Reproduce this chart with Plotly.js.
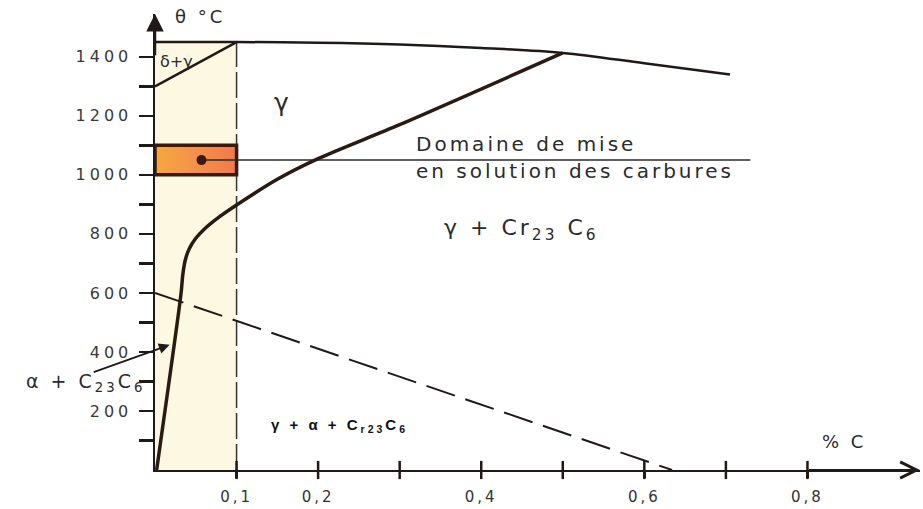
<!DOCTYPE html>
<html><head><meta charset="utf-8">
<script src="https://cdn.plot.ly/plotly-3.0.1.min.js"></script>
<style>
body{margin:0;background:#fff}
text.annotation-text{letter-spacing:3px}
.ytick text{letter-spacing:4px}
.xtick text{letter-spacing:3px}
</style>
</head><body>
<div id="chart" style="width:923px;height:509px"></div>
<script>
// ---- data (x: % C, y: temperature °C) ----
const topLineX   = [0, 0.1, 0.2, 0.3, 0.4, 0.5, 0.6, 0.705];
const topLineY   = [1450, 1450, 1448, 1442, 1430, 1413, 1378, 1340];
const deltaX     = [0, 0.1];
const deltaY     = [1300, 1450];
const solvusX    = [0.5, 0.3, 0.2, 0.15, 0.1, 0.08, 0.06, 0.05, 0.042, 0.037, 0.034, 0.032, 0.002];
const solvusY    = [1413, 1170, 1055, 985, 898, 860, 815, 785, 750, 710, 660, 600, 0];
const dashedX    = [0, 0.634];
const dashedY    = [600, 0];
const limitX     = [0.1, 0.1];
const limitY     = [0, 1450];
const zoneX      = [0, 0.1, 0.1, 0, 0];
const zoneY      = [0, 0, 1450, 1450, 0];
const boxX       = [0, 0.1, 0.1, 0, 0];
const boxY       = [1000, 1000, 1100, 1100, 1000];
const pointerX   = [0.057, 0.73];
const pointerY   = [1050, 1050];
const xTickMarks = [0.1, 0.2, 0.3, 0.4, 0.5, 0.6, 0.7, 0.8];
const xTickVals  = [0.1, 0.2, 0.4, 0.6, 0.8];
const xTickText  = ['0,1', '0,2', '0,4', '0,6', '0,8'];
const yTickMarks = [100, 200, 300, 400, 500, 600, 700, 800, 900, 1000, 1100, 1200, 1300, 1400];
const yTickVals  = [200, 400, 600, 800, 1000, 1200, 1400];
const yTickText  = ['200', '400', '600', '800', '1000', '1200', '1400'];
const xMax = 0.938, yMax = 1545;

const ink = '#1f1a17';
const traces = [
  {x: zoneX, y: zoneY, mode: 'lines', fill: 'toself', fillcolor: '#fdf8e2', line: {width: 0}},
  {x: limitX, y: limitY, mode: 'lines', line: {color: '#333', width: 1.5, dash: '26px,5px'}},
  {x: boxX, y: boxY, mode: 'lines', fill: 'toself', fillcolor: '#f4894a',
   fillgradient: {type: 'horizontal', colorscale: [[0, '#f7a83e'], [0.5, '#f5904a'], [1, '#f27a4c']]},
   line: {color: '#3a1a0e', width: 3.5}},
  {x: pointerX, y: pointerY, mode: 'lines', line: {color: '#2a2a2a', width: 1.5}},
  {x: [pointerX[0]], y: [pointerY[0]], mode: 'markers', marker: {color: '#3a1a0e', size: 10}},
  {x: topLineX, y: topLineY, mode: 'lines', line: {color: ink, width: 2.5, shape: 'spline'}},
  {x: deltaX, y: deltaY, mode: 'lines', line: {color: ink, width: 2.5}},
  {x: solvusX, y: solvusY, mode: 'lines', line: {color: '#2a1a14', width: 3.5, shape: 'spline', smoothing: 0.8}},
  {x: dashedX, y: dashedY, mode: 'lines', line: {color: ink, width: 2, dash: '30px,11px'}},
  {x: xTickMarks, y: xTickMarks.map(() => 0), mode: 'markers',
   marker: {symbol: 'line-ns-open', size: 13, color: ink, line: {color: ink, width: 2.5}}}
];
traces.forEach(t => { t.showlegend = false; t.cliponaxis = false; t.hoverinfo = 'skip'; });

const txt = (x, y, text, size, extra) => Object.assign({x, y, xref: 'x', yref: 'y', text, showarrow: false,
  xanchor: 'center', font: {family: 'DejaVu Sans', size, color: '#2b2b2b'}}, extra || {});

const layout = {
  width: 923, height: 509,
  margin: {l: 155, r: 3, t: 14, b: 39},
  paper_bgcolor: '#fff', plot_bgcolor: '#fff',
  showlegend: false,
  xaxis: {range: [0, xMax], showgrid: false, zeroline: false, showline: true, linecolor: ink, linewidth: 2,
          tickmode: 'array', tickvals: xTickVals, ticktext: xTickText, ticks: 'outside', ticklen: 6, tickwidth: 2.5, tickcolor: ink,
          ticklabelstandoff: 6, tickfont: {family: 'DejaVu Sans', size: 15, color: '#333'}},
  yaxis: {range: [0, yMax], showgrid: false, zeroline: false, showline: true, linecolor: ink, linewidth: 2.5,
          tickmode: 'array', tickvals: yTickVals, ticktext: yTickText, ticks: 'outside', ticklen: 14, tickwidth: 2.5, tickcolor: ink,
          ticklabelstandoff: 3, tickfont: {family: 'DejaVu Sans', size: 16, color: '#3a3a3a'},
          minor: {tickmode: 'array', tickvals: yTickMarks, ticks: 'outside', ticklen: 14, tickwidth: 2.5, tickcolor: ink, showgrid: false}},
  annotations: [
    // axis arrows
    {x: 0, y: yMax, ax: 0, ay: 1400, xref: 'x', yref: 'y', axref: 'x', ayref: 'y', text: '', showarrow: true,
     arrowhead: 2, arrowsize: 1.4, arrowwidth: 2.5, arrowcolor: ink},
    {x: xMax, y: 0, ax: 0.8, ay: 0, xref: 'x', yref: 'y', axref: 'x', ayref: 'y', text: '', showarrow: true,
     arrowhead: 5, arrowsize: 1.6, arrowwidth: 2, arrowcolor: ink},
    // pointer to α + C23C6 region
    {x: 0.018, y: 424, ax: -0.077, ay: 330, xref: 'x', yref: 'y', axref: 'x', ayref: 'y', text: '', showarrow: true,
     arrowhead: 2, arrowsize: 1.2, arrowwidth: 1.8, arrowcolor: ink},
    txt(0.055, 1535, 'θ °C', 18),
    txt(0.026, 1383, '<span style="letter-spacing:0px">δ+γ</span>', 16),
    txt(0.157, 1244, 'γ', 25),
    txt(0.318, 1105, 'Domaine de mise', 20, {xanchor: 'left'}),
    txt(0.318, 1013, 'en solution des carbures', 20, {xanchor: 'left'}),
    txt(0.352, 815, 'γ + Cr<sub>23</sub> C<sub>6</sub>', 22, {xanchor: 'left'}),
    {x: -0.0915, y: 295, xref: 'paper', yref: 'y', xanchor: 'center', text: 'α + C<sub>23</sub>C<sub>6</sub>', showarrow: false,
     font: {family: 'DejaVu Sans', size: 19, color: '#2b2b2b'}},
    txt(0.14, 150, '<b>γ + α + C<sub>r23</sub>C<sub>6</sub></b>', 15, {xanchor: 'left', font: {family: 'Liberation Sans', size: 15, color: '#111'}}),
    txt(0.845, 95, '% C', 18)
  ]
};

Plotly.newPlot('chart', traces, layout, {displayModeBar: false, staticPlot: true});
</script>
</body></html>
